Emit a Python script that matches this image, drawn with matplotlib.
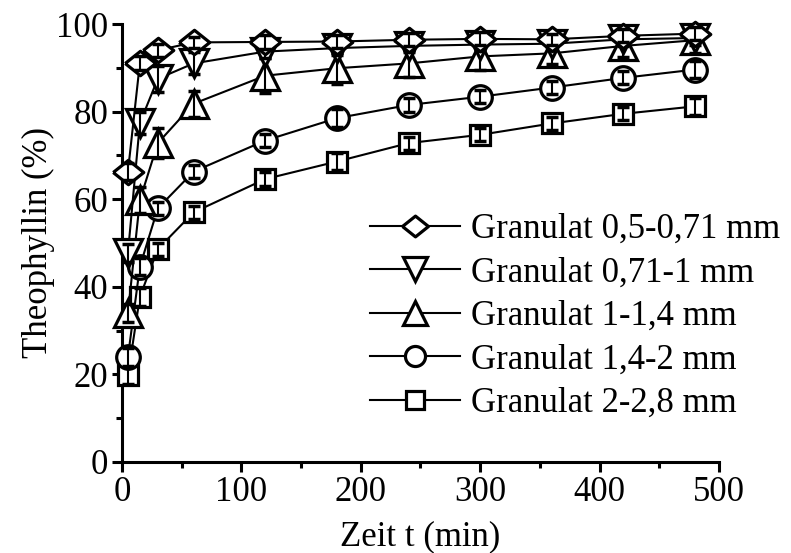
import numpy as np
import matplotlib
matplotlib.use("Agg")
import matplotlib.pyplot as plt
from matplotlib.ticker import MultipleLocator

plt.rcParams["font.family"] = ["Liberation Serif", "DejaVu Serif"]
plt.rcParams["font.size"] = 25

# data
t = [5, 15, 30, 60, 120, 180, 240, 300, 360, 420, 480]
labels = [
    "Granulat 0,5-0,71 mm",
    "Granulat 0,71-1 mm",
    "Granulat 1-1,4 mm",
    "Granulat 1,4-2 mm",
    "Granulat 2-2,8 mm",
]
g_05_071 = [66.3, 91.1, 94.0, 95.8, 95.9, 96.0, 96.4, 96.6, 96.5, 97.3, 97.8]
g_071_1 = [47.7, 77.4, 87.5, 91.0, 93.7, 94.5, 95.0, 95.3, 95.5, 96.5, 96.8]
g_1_14 = [34.0, 59.8, 72.8, 81.8, 88.2, 89.9, 91.0, 92.6, 93.3, 95.0, 96.3]
g_14_2 = [24.0, 44.6, 57.9, 66.3, 73.4, 78.5, 81.5, 83.4, 85.5, 87.7, 89.6]
g_2_28 = [19.8, 37.7, 48.6, 57.0, 64.6, 68.6, 72.8, 74.7, 77.3, 79.5, 81.2]

err_05_071 = [2.0, 1.5, 1.5, 1.2, 1.5, 1.5, 1.5, 1.5, 1.2, 1.5, 1.5]
err_071_1 = [2.0, 2.5, 3.0, 2.5, 1.5, 1.5, 1.5, 1.5, 1.5, 1.5, 1.5]
err_1_14 = [2.0, 3.0, 3.5, 3.0, 4.0, 3.5, 3.0, 3.0, 2.5, 2.5, 3.0]
err_14_2 = [2.0, 2.0, 1.5, 1.5, 1.5, 2.0, 1.5, 1.5, 1.5, 1.5, 2.0]
err_2_28 = [2.0, 2.0, 1.5, 1.5, 1.5, 2.0, 1.5, 1.5, 1.5, 1.5, 2.0]

values = [g_05_071, g_071_1, g_1_14, g_14_2, g_2_28]
errors = [err_05_071, err_071_1, err_1_14, err_14_2, err_2_28]

diamond = [(-1, 0), (0, 0.8), (1, 0), (0, -0.8), (-1, 0)]
markers = [diamond, "v", "^", "o", "s"]
msizes = [22, 20, 20, 17, 15]

fig = plt.figure(figsize=(7.91, 5.53), dpi=100)
ax = fig.add_axes([0.1542, 0.1646, 0.909 - 0.1542, 0.9566 - 0.1646])

handles = []
n = len(values)
for i in reversed(range(n)):
    z = 3 + (n - i) * 3
    (h,) = ax.plot(t, values[i], color="black", lw=1.5, marker=markers[i],
                   ms=msizes[i], mfc="white", mec="black", mew=2.3,
                   zorder=z, clip_on=False, label=labels[i])
    ax.errorbar(t, values[i], yerr=errors[i], fmt="none", ecolor="black",
                elinewidth=1.5, capsize=4, capthick=2.5, zorder=z + 1,
                clip_on=False)
    handles.append(h)
handles = handles[::-1]

ax.set_xlim(0, 500)
ax.set_ylim(0, 100)
ax.xaxis.set_major_locator(MultipleLocator(100))
ax.xaxis.set_minor_locator(MultipleLocator(50))
ax.yaxis.set_major_locator(MultipleLocator(20))
ax.yaxis.set_minor_locator(MultipleLocator(10))
for s in ["top", "right"]:
    ax.spines[s].set_visible(False)
for s in ["left", "bottom"]:
    ax.spines[s].set_linewidth(2.2)
ax.tick_params(which="major", direction="out", length=7, width=2.2, pad=3)
ax.tick_params(which="minor", direction="out", length=4, width=2.2)

ax.set_xlabel("Zeit t (min)", labelpad=8)
ax.set_ylabel("Theophyllin (%)", labelpad=1)

leg = ax.legend(handles=handles, loc="upper left",
                bbox_to_anchor=(370 / 791, 1 - 213 / 553),
                bbox_transform=fig.transFigure, frameon=False,
                borderpad=0, borderaxespad=0, handlelength=2.6,
                handletextpad=0.3, labelspacing=0.3, markerscale=0.85)

fig.savefig("out.png", dpi=100)
